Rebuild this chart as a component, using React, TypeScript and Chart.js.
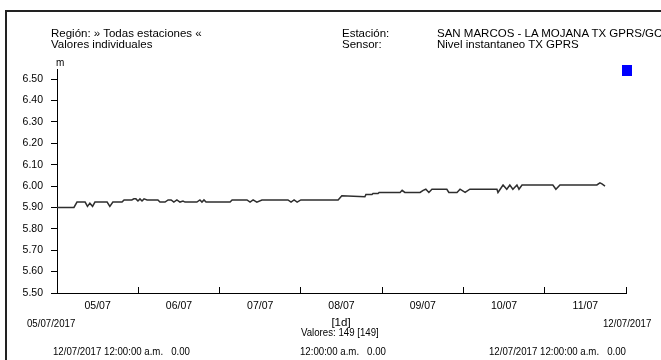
import React, { useEffect, useRef } from "react";
import { Chart, registerables } from "chart.js";

Chart.register(...registerables);

// Hours since 05/07/2017 00:00
const hours = [
  0, 5.0, 5.9, 8.3, 9.0, 9.7, 10.5, 11.2, 14.8, 15.6, 16.5, 19.2, 19.8, 22.1, 22.7,
  23.3, 23.9, 24.5, 25.1, 25.7, 26.6, 27.5, 29.8, 30.4, 31.9, 32.8,
  33.7, 34.5, 35.4, 36.3, 37.2, 37.8, 41.3, 42.2, 42.8, 43.4, 44.0, 44.6, 51.1, 51.7,
  56.1, 57.0, 57.9, 59.0, 60.5, 68.2, 69.1, 70.0, 70.9, 72.0, 83.0, 84.1,
  90.9, 91.2, 93.0, 93.3, 94.8, 95.1, 101.3, 101.9, 102.7, 107.2, 108.1, 108.9, 109.8, 110.7,
  115.1, 115.7, 118.1, 119.0, 120.5, 121.9, 129.9, 130.2, 131.7, 132.8, 133.7, 134.6, 135.8,
  136.4, 137.3, 146.4, 147.3, 148.5, 159.4, 160.3, 160.9, 161.8,
];

// Water level (m)
const levels = [
  5.9, 5.9, 5.925, 5.925, 5.905, 5.92, 5.905, 5.925, 5.925, 5.905, 5.925, 5.925, 5.935, 5.935, 5.94,
  5.94, 5.93, 5.94, 5.93, 5.94, 5.935, 5.935, 5.935, 5.925, 5.925, 5.935,
  5.935, 5.925, 5.935, 5.925, 5.93, 5.925, 5.925, 5.935, 5.925, 5.935, 5.925, 5.925, 5.925, 5.935,
  5.935, 5.925, 5.935, 5.925, 5.935, 5.935, 5.925, 5.935, 5.925, 5.935, 5.935, 5.955,
  5.95, 5.96, 5.96, 5.965, 5.965, 5.97, 5.97, 5.98, 5.97, 5.97, 5.98, 5.985, 5.97, 5.985,
  5.985, 5.97, 5.97, 5.985, 5.97, 5.985, 5.985, 5.97, 6.005, 5.985, 6.005, 5.985, 6.005,
  5.985, 6.005, 6.005, 5.985, 6.005, 6.005, 6.015, 6.01, 6.0,
];

const yTickValues = [5.5, 5.6, 5.7, 5.8, 5.9, 6.0, 6.1, 6.2, 6.3, 6.4, 6.5];
const xTickHours = [0, 12, 24, 36, 48, 60, 72, 84, 96, 108, 120, 132, 144, 156, 168];
const dayLabels = ["05/07", "06/07", "07/07", "08/07", "09/07", "10/07", "11/07"];

const FONT = "'Liberation Sans Narrow', 'Arial Narrow', 'Liberation Sans', Arial, sans-serif";

const txt = (extra: React.CSSProperties): React.CSSProperties => ({
  position: "absolute",
  whiteSpace: "nowrap",
  fontFamily: FONT,
  fontSize: 11.5,
  lineHeight: "12px",
  color: "#000",
  ...extra,
});

const narrow = (left: number, top: number, center = false): React.CSSProperties =>
  txt({
    left,
    top,
    transformOrigin: center ? "0 0" : "0 0",
    transform: center ? "scaleX(0.85) translateX(-50%)" : "scaleX(0.84)",
  });

export default function App() {
  const ref = useRef<HTMLCanvasElement>(null);

  useEffect(() => {
    const pts = hours.map((h, i) => ({ x: h, y: levels[i] }));
    const chart = new Chart(ref.current as HTMLCanvasElement, {
      type: "line",
      data: {
        datasets: [
          {
            data: pts,
            borderColor: "#2e2e2e",
            borderWidth: 1.5,
            pointRadius: 0,
            tension: 0,
            fill: false,
          },
        ],
      },
      options: {
        animation: false,
        responsive: false,
        devicePixelRatio: 1,
        layout: { padding: { left: 0, right: 35, top: 69, bottom: 0 } },
        plugins: { legend: { display: false }, tooltip: { enabled: false } },
        scales: {
          x: {
            type: "linear",
            min: 0,
            max: 168,
            afterBuildTicks: (s: any) => {
              s.ticks = xTickHours.map((v) => ({ value: v }));
            },
            afterFit: (s: any) => {
              s.height = 67;
            },
            ticks: {
              autoSkip: false,
              maxRotation: 0,
              padding: 13,
              color: "#000",
              font: { family: FONT, size: 10.5 },
              callback: (v: any) => {
                const h = Number(v);
                return h % 24 === 12 ? dayLabels[(h - 12) / 24] : "";
              },
            },
            grid: {
              drawOnChartArea: false,
              tickLength: -6,
              lineWidth: 1,
              tickColor: (ctx: any) =>
                ctx.tick && ctx.tick.value % 24 === 12 ? "rgba(0,0,0,0)" : "#000",
            },
            border: { color: "#000", width: 1 },
          },
          y: {
            type: "linear",
            min: 5.5,
            max: 6.547,
            afterBuildTicks: (s: any) => {
              s.ticks = yTickValues.map((v) => ({ value: v }));
            },
            afterFit: (s: any) => {
              s.width = 57;
            },
            ticks: {
              padding: 8,
              color: "#000",
              font: { family: FONT, size: 10.5 },
              callback: (v: any) => Number(v).toFixed(2),
            },
            grid: { drawOnChartArea: false, tickLength: 6, tickColor: "#000", lineWidth: 1 },
            border: { color: "#000", width: 1 },
          },
        },
      },
    });
    return () => chart.destroy();
  }, []);

  return (
    <div
      style={{
        position: "fixed",
        left: 0,
        top: 0,
        width: 661,
        height: 360,
        background: "#fff",
        overflow: "hidden",
      }}
    >
      <div
        style={{
          position: "absolute",
          left: 5,
          top: 10,
          width: 700,
          height: 400,
          borderLeft: "2px solid #222",
          borderTop: "2px solid #222",
        }}
      />
      <canvas
        ref={ref}
        width={661}
        height={360}
        style={{ position: "absolute", left: 0, top: 0, display: "block" }}
      />
      <div style={txt({ left: 51, top: 27 })}>Región: » Todas estaciones «</div>
      <div style={txt({ left: 51, top: 38 })}>Valores individuales</div>
      <div style={txt({ left: 342, top: 27 })}>Estación:</div>
      <div style={txt({ left: 342, top: 38 })}>Sensor:</div>
      <div style={txt({ left: 437, top: 27 })}>SAN MARCOS - LA MOJANA TX GPRS/GC</div>
      <div style={txt({ left: 437, top: 38 })}>Nivel instantaneo TX GPRS</div>
      <div style={txt({ left: 56, top: 57, fontSize: 10 })}>m</div>
      <div
        style={{
          position: "absolute",
          left: 622,
          top: 65,
          width: 10,
          height: 11,
          background: "#0000ff",
        }}
      />
      <div style={narrow(27, 317)}>05/07/2017</div>
      <div style={txt({ left: 341, top: 316, transform: "translateX(-50%)" })}>[1d]</div>
      <div style={narrow(603, 317)}>12/07/2017</div>
      <div style={narrow(301, 326)}>Valores: 149 [149]</div>
      <div style={narrow(53, 345)}>12/07/2017 12:00:00 a.m.&nbsp;&nbsp;&nbsp;0.00</div>
      <div style={narrow(300, 345)}>12:00:00 a.m.&nbsp;&nbsp;&nbsp;0.00</div>
      <div style={narrow(489, 345)}>12/07/2017 12:00:00 a.m.&nbsp;&nbsp;&nbsp;0.00</div>
    </div>
  );
}
